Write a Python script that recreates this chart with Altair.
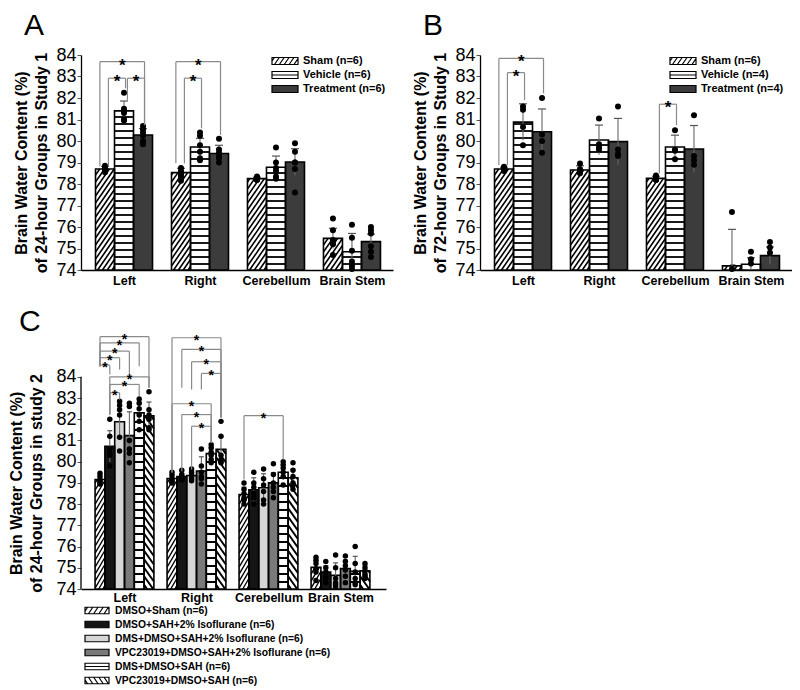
import altair as alt
import pandas as pd

FONT = "Liberation Sans"
REGIONS = ["Left", "Right", "Cerebellum", "Brain Stem"]

# ---------------- Panel A (24-hour, study 1) ----------------
A_SERIES = ["Sham (n=6)", "Vehicle (n=6)", "Treatment (n=6)"]
A_MEANS = [[78.70, 81.40, 80.28], [78.53, 79.72, 79.42], [78.25, 78.78, 79.02], [75.47, 74.85, 75.32]]
A_SD = [[0.12, 0.46, 0.30], [0.20, 0.40, 0.38], [0.07, 0.52, 0.62], [0.47, 0.85, 0.35]]
A_POINTS = [
    [[78.85, 78.75, 78.70, 78.62, 78.55, 78.68], [82.25, 81.50, 81.30, 81.00, 80.95, 81.40], [80.70, 80.55, 80.40, 80.25, 80.00, 79.85]],
    [[78.75, 78.60, 78.50, 78.40, 78.30, 78.15], [80.40, 80.25, 79.80, 79.50, 79.20, 79.10], [80.10, 79.60, 79.45, 79.30, 79.20, 79.00]],
    [[78.35, 78.30, 78.25, 78.20, 78.20, 78.20], [79.70, 79.00, 78.75, 78.60, 78.35, 78.25], [79.90, 79.50, 79.00, 79.00, 78.70, 77.60]],
    [[76.40, 75.85, 75.40, 75.30, 75.20, 74.70], [76.10, 75.50, 74.90, 74.40, 74.20, 74.05], [76.00, 75.85, 75.70, 75.10, 74.85, 74.60]],
]
# (region, bar i, bar j, bracket height, left leg bottom, right leg bottom)
A_BRACKETS = [("Left", 0, 2, 83.69, 78.82, 80.74), ("Left", 0, 1, 82.92, 78.82, 82.45),
              ("Left", 1, 2, 82.92, 81.90, 80.74), ("Right", 0, 2, 83.69, 78.96, 80.28),
              ("Right", 0, 1, 82.92, 78.96, 80.59)]

# ---------------- Panel B (72-hour, study 1) ----------------
B_SERIES = ["Sham (n=6)", "Vehicle (n=4)", "Treatment (n=4)"]
B_MEANS = [[78.70, 80.88, 80.43], [78.65, 80.05, 79.97], [78.26, 79.72, 79.63], [74.19, 74.27, 74.67]]
B_SD = [[0.08, 0.85, 1.06], [0.20, 0.69, 1.08], [0.10, 0.55, 1.09], [1.70, 0.30, 0.40]]
B_POINTS = [
    [[78.80, 78.75, 78.70, 78.65, 78.60, 78.70], [81.60, 81.45, 80.65, 79.80], [82.00, 80.30, 80.00, 79.45]],
    [[78.95, 78.70, 78.60, 78.55, 78.50, 78.60], [81.05, 79.85, 79.70, 79.60], [81.60, 79.60, 79.40, 79.30]],
    [[78.40, 78.30, 78.25, 78.20, 78.20, 78.20], [80.50, 79.60, 79.55, 79.15], [81.20, 79.30, 79.10, 78.90]],
    [[76.70, 74.05], [74.85, 74.50, 74.30], [75.30, 75.05, 74.80]],
]
B_BRACKETS = [("Left", 0, 2, 83.84, 78.88, 82.22), ("Left", 0, 1, 83.18, 78.88, 81.90),
              ("Cerebellum", 0, 1, 81.71, 78.50, 80.74)]

# ---------------- Panel C (24-hour, study 2) ----------------
C_SERIES = ["DMSO+Sham (n=6)", "DMSO+SAH+2% Isoflurane (n=6)", "DMS+DMSO+SAH+2% Isoflurane (n=6)",
            "VPC23019+DMSO+SAH+2% Isoflurane (n=6)", "DMS+DMSO+SAH (n=6)", "VPC23019+DMSO+SAH (n=6)"]
C_MEANS = [[79.16, 80.72, 81.88, 81.23, 82.30, 82.16],
           [79.21, 79.30, 79.35, 79.56, 80.38, 80.58],
           [78.45, 78.68, 78.77, 79.00, 79.50, 79.24],
           [75.02, 74.80, 74.64, 74.96, 74.83, 74.86]]
C_SD = [[0.20, 0.74, 0.85, 1.12, 0.50, 0.65],
        [0.20, 0.15, 0.25, 0.67, 0.30, 0.60],
        [0.35, 0.56, 0.66, 0.48, 0.35, 0.40],
        [0.30, 0.30, 0.59, 0.40, 0.71, 0.25]]
C_POINTS = [
    [[79.45, 79.30, 79.15, 79.00, 79.10, 78.95], [82.00, 81.20, 80.60, 80.40, 80.30, 79.80],
     [82.85, 82.65, 82.45, 82.20, 81.15, 80.50], [82.75, 82.60, 81.00, 80.60, 80.40, 79.95],
     [82.95, 82.75, 82.50, 82.20, 81.90, 81.50], [83.30, 82.45, 82.20, 82.00, 81.60, 81.50]],
    [[79.50, 79.35, 79.20, 79.10, 79.05, 79.00], [79.60, 79.40, 79.30, 79.20, 79.15, 79.15],
     [79.65, 79.50, 79.35, 79.30, 79.20, 79.10], [80.60, 79.80, 79.50, 79.30, 79.20, 78.95],
     [80.80, 80.65, 80.45, 80.30, 80.10, 79.95], [81.90, 81.20, 80.30, 80.10, 80.00, 79.95]],
    [[79.00, 78.70, 78.50, 78.30, 78.20, 78.00], [79.50, 79.00, 78.80, 78.50, 78.30, 78.00],
     [79.65, 79.20, 78.90, 78.60, 78.20, 78.00], [79.90, 79.40, 79.00, 78.80, 78.60, 78.30],
     [80.00, 79.85, 79.70, 79.50, 79.30, 78.90], [79.95, 79.60, 79.30, 79.00, 78.90, 78.70]],
    [[75.50, 75.35, 75.20, 74.95, 74.80, 74.40], [75.30, 75.00, 74.80, 74.60, 74.50, 74.30],
     [75.60, 75.00, 74.50, 74.30, 74.20, 74.10], [75.55, 75.30, 75.10, 74.90, 74.60, 74.30],
     [76.00, 75.20, 74.80, 74.50, 74.30, 74.20], [75.20, 75.00, 74.85, 74.70, 74.60, 74.50]],
]
C_BRACKETS = [("Left", 0, 5, 85.89, 84.50, 83.48), ("Left", 0, 4, 85.60, 84.50, 84.50),
              ("Left", 0, 3, 85.21, 84.50, 84.11), ("Left", 0, 2, 84.90, 84.50, 84.34),
              ("Left", 0, 1, 84.55, 84.50, 84.11), ("Left", 1, 5, 84.00, 82.22, 83.48),
              ("Left", 1, 4, 83.64, 82.22, 83.08), ("Left", 1, 2, 83.25, 82.22, 82.93),
              ("Right", 0, 5, 85.84, 79.49, 82.08), ("Right", 1, 5, 85.29, 83.48, 82.08),
              ("Right", 2, 5, 84.71, 83.40, 82.08), ("Right", 3, 5, 84.16, 83.40, 82.08),
              ("Right", 0, 4, 82.73, 79.49, 80.89), ("Right", 1, 4, 82.22, 79.55, 80.89),
              ("Right", 2, 4, 81.67, 79.63, 80.89), ("Cerebellum", 0, 4, 82.17, 79.16, 80.10)]

# ---------------- styles ----------------
AB_STYLE = [("fwd", "white"), ("horiz", "white"), ("solid", "#3c3c3c")]
C_STYLE = [("fwd", "white"), ("solid", "#151515"), ("solid", "#d6d6d6"),
           ("solid", "#7a7a7a"), ("horiz", "white"), ("back", "white")]
AB_HATCH = {"fwd": (7.0, 1.45, 1.6), "horiz": (7.0, 0, 1.8)}
C_HATCH = {"fwd": (7.0, 1.7, 1.4), "horiz": (8.0, 0, 2.0), "back": (8.5, 1.4, 2.0)}
AB_GEO = dict(width=312, height=215, xdom=[-0.566, 3.54], ydom=[74, 84], bar_px=19, cap_px=8,
              dot=36, star_fs=17, star_dy=4, ylab_fs=18, xlab_fs=12.5, xlab_pad=4, title_pad=6,
              nudge=(-0.27, 0.18, 0.08), sw_w=26, sw_h=7, sw_step=0.75, sw_slope=1.45,
              leg_fs=11, leg_off=16)
C_GEO = dict(width=305, height=261, xdom=[-0.604, 3.632], ydom=[74, 86.3], bar_px=9.8, cap_px=5,
             dot=30, star_fs=14, star_dy=3, ylab_fs=18, xlab_fs=12.5, xlab_pad=2, title_pad=11,
             nudge=(0, 0, 0), sw_w=24, sw_h=6.5, sw_step=0.8, sw_slope=1.5, leg_fs=10.3,
             leg_off=15)

LABEL_EXPR = "[" + ",".join("'" + r + "'" for r in REGIONS) + "][datum.value]"
SYM_SIZE = 169            # legend symbol layout box (13 px); swatch path drawn wider
SYM_HALF = 6.5            # px per path unit
SYM_CX = 7.5              # symbol centre inside the legend entry


def centre(g, s, n, bw):
    return g + (s - (n - 1) / 2) * bw


def swatch_path(kind, w_px, h_px, step, slope):
    xl = -SYM_CX / SYM_HALF
    xr = (w_px - SYM_CX) / SYM_HALF
    hh = h_px / 2 / SYM_HALF
    p = f"M{xl:.3f},{-hh:.3f}H{xr:.3f}V{hh:.3f}H{xl:.3f}Z"
    if kind == "horiz":
        return p + f" M{xl:.3f},0H{xr:.3f}"
    if kind in ("fwd", "back"):
        run = 2 * hh / slope
        x = xl - run + step * 0.5
        while x < xr:
            if kind == "fwd":
                x0, y0, x1, y1 = x, hh, x + run, -hh
            else:
                x0, y0, x1, y1 = x, -hh, x + run, hh
            ax, bx = max(x0, xl), min(x1, xr)
            if bx - ax > 0.02:
                ya = y0 + (y1 - y0) * (ax - x0) / (x1 - x0)
                yb = y0 + (y1 - y0) * (bx - x0) / (x1 - x0)
                p += f" M{ax:.3f},{ya:.3f}L{bx:.3f},{yb:.3f}"
            x += step
    return p


def make_panel(series, means, sds, points, brackets, style, hatch, geo, ytitle, letter,
               leg_xy, title_offset, c_axis=False):
    n = len(series)
    kx = geo["width"] / (geo["xdom"][1] - geo["xdom"][0])
    ky = geo["height"] / (geo["ydom"][1] - geo["ydom"][0])
    bw = geo["bar_px"] / kx
    cw = geo["cap_px"] / kx

    bar_rows, dot_rows = [], []
    for g, region in enumerate(REGIONS):
        for s, name in enumerate(series):
            c = centre(g, s, n, bw)
            m, sd = means[g][s], sds[g][s]
            bar_rows.append({"series": name, "xc": c, "x0": c - bw / 2, "x1": c + bw / 2,
                             "cx0": c - cw / 2, "cx1": c + cw / 2, "base": 74.0, "mid": 74.2,
                             "val": m, "lo": max(m - sd, 74.0), "hi": m + sd,
                             "kind": style[s][0], "fill": style[s][1]})
            for v in points[g][s]:
                dot_rows.append({"px": c, "py": v})
    bars = pd.DataFrame(bar_rows)
    dots = pd.DataFrame(dot_rows)

    # hatch lines, computed inside each bar in data units
    h_rows = []
    for b in bars.itertuples():
        if b.kind not in hatch:
            continue
        period, slope, sw = hatch[b.kind]
        W = (b.x1 - b.x0) * kx
        H = (b.val - b.base) * ky
        segs = []
        if b.kind == "horiz":
            yy = period - 1.0
            while yy < H - 1.5:
                segs.append((0, yy, W, yy))
                yy += period
        else:
            sg = 1 if b.kind == "fwd" else -1
            c = (-slope * W if sg > 0 else 0.0) + period * 0.5
            cmax = H if sg > 0 else H + slope * W
            while c < cmax:
                if sg > 0:
                    xa, xb = max(0, -c / slope), min(W, (H - c) / slope)
                else:
                    xa, xb = max(0, (c - H) / slope), min(W, c / slope)
                if xb - xa > 0.4:
                    segs.append((xa, sg * slope * xa + c, xb, sg * slope * xb + c))
                c += period
        for xa, ya, xb, yb in segs:
            h_rows.append({"hx": b.x0 + xa / kx, "hx2": b.x0 + xb / kx,
                           "hy": b.base + ya / ky, "hy2": b.base + yb / ky, "sw": sw})
    hat = pd.DataFrame(h_rows)

    # significance brackets
    seg_rows, star_rows = [], []
    nl, nm, nr = geo["nudge"]
    for region, i, j, h, l1, l2 in brackets:
        g = REGIONS.index(region)
        xl = centre(g, i, n, bw) + (nl if j - i > 1 else nm) * bw
        xr = centre(g, j, n, bw) + nr * bw
        seg_rows += [{"bx": xl, "bx2": xr, "by": h, "by2": h},
                     {"bx": xl, "bx2": xl, "by": l1, "by2": h},
                     {"bx": xr, "bx2": xr, "by": l2, "by2": h}]
        star_rows.append({"sx": (xl + xr) / 2, "sy": h})
    segs_df = pd.DataFrame(seg_rows)
    stars_df = pd.DataFrame(star_rows)

    xs = alt.Scale(domain=geo["xdom"], nice=False, zero=False)
    ys = alt.Scale(domain=geo["ydom"], nice=False, zero=False)
    xaxis = alt.Axis(values=[0, 1, 2, 3], labelExpr=LABEL_EXPR, ticks=False, grid=False, title=None,
                     domainColor="black", domainWidth=1.3, labelFont=FONT,
                     labelFontSize=geo["xlab_fs"], labelFontWeight="bold", labelColor="black",
                     labelPadding=geo["xlab_pad"])
    yargs = dict(values=list(range(74, 85)), grid=False, title=ytitle, titleFont=FONT,
                 titleFontSize=16, titleFontWeight="bold", titleColor="black",
                 titleLineHeight=20, titlePadding=geo["title_pad"], labelFont=FONT,
                 labelFontSize=geo["ylab_fs"], labelColor="black", labelPadding=1,
                 tickSize=4, tickColor="#555555", domainColor="black", domainWidth=1.3)
    if c_axis:
        yargs["domain"] = False
        yargs["titleY"] = (geo["ydom"][1] - 79) * ky
    yaxis = alt.Axis(**yargs)

    def X(f):
        return alt.X(f, type="quantitative", scale=xs, axis=xaxis)

    def Y(f):
        return alt.Y(f, type="quantitative", scale=ys, axis=yaxis)

    # legend: hidden points under the bars carry a merged fill/shape/stroke legend
    paths = [swatch_path(k, geo["sw_w"], geo["sw_h"], geo["sw_step"], geo["sw_slope"]) for k, _ in style]
    leg_fills = [f for _, f in style]
    leg = alt.Legend(title=None, orient="none", legendX=leg_xy[0], legendY=leg_xy[1],
                     direction="vertical", labelFont=FONT, labelFontSize=geo["leg_fs"],
                     labelFontWeight="bold", labelColor="black",
                     symbolSize=SYM_SIZE, symbolStrokeColor="black",
                     symbolStrokeWidth=1.2, symbolOpacity=1, rowPadding=0,
                     labelOffset=geo["leg_off"], padding=0, labelLimit=400)
    layers = [alt.Chart(bars).mark_point(filled=True, size=4, opacity=1, strokeWidth=1.2).encode(
        x=X("xc"), y=Y("mid"),
        fill=alt.Fill("series:N", scale=alt.Scale(domain=series, range=leg_fills), legend=leg),
        stroke=alt.Stroke("series:N", scale=alt.Scale(domain=series, range=["black"] * n), legend=leg),
        shape=alt.Shape("series:N", scale=alt.Scale(domain=series, range=paths), legend=leg))]

    for col in bars["fill"].unique():
        layers.append(alt.Chart(bars[bars["fill"] == col]).mark_rect(fill=col, strokeWidth=0).encode(
            x=X("x0"), x2="x1", y=Y("base"), y2="val"))
    if len(hat):
        for sw in hat["sw"].unique():
            layers.append(alt.Chart(hat[hat["sw"] == sw]).mark_rule(color="black", strokeWidth=float(sw)).encode(
                x=X("hx"), x2="hx2", y=Y("hy"), y2="hy2"))
    layers.append(alt.Chart(bars).mark_rect(fill="transparent", stroke="black", strokeWidth=1.6).encode(
        x=X("x0"), x2="x1", y=Y("base"), y2="val"))
    layers.append(alt.Chart(bars).mark_rule(color="#666666", strokeWidth=1.1).encode(
        x=X("xc"), y=Y("lo"), y2="hi"))
    layers.append(alt.Chart(bars).mark_rule(color="#555555", strokeWidth=1.2).encode(
        x=X("cx0"), x2="cx1", y=Y("hi")))
    layers.append(alt.Chart(dots).mark_circle(size=geo["dot"], color="black", opacity=1).encode(
        x=X("px"), y=Y("py")))
    layers.append(alt.Chart(segs_df).mark_rule(color="#8a8a8a", strokeWidth=1.2).encode(
        x=X("bx"), x2="bx2", y=Y("by"), y2="by2"))
    layers.append(alt.Chart(stars_df).mark_text(text="*", font=FONT, fontSize=geo["star_fs"],
                                                fontWeight="bold", fill="black",
                                                dy=geo["star_dy"]).encode(
        x=X("sx"), y=Y("sy")))
    if c_axis:
        axdf = pd.DataFrame({"ax": [geo["xdom"][0]], "a0": [74.0], "a1": [84.0]})
        layers.append(alt.Chart(axdf).mark_rule(color="black", strokeWidth=1.3).encode(
            x=X("ax"), y=Y("a0"), y2="a1"))

    return alt.layer(*layers).properties(
        width=geo["width"], height=geo["height"],
        title=alt.TitleParams(text=letter, anchor="start", frame="bounds", fontSize=30, font=FONT,
                              fontWeight="normal", color="black", dx=10, offset=title_offset))


pa = make_panel(A_SERIES, A_MEANS, A_SD, A_POINTS, A_BRACKETS, AB_STYLE, AB_HATCH, AB_GEO,
                ["Brain Water Content (%)", "of 24-hour Groups in Study 1"], "A", (191, -1.5), 5)
pb = make_panel(B_SERIES, B_MEANS, B_SD, B_POINTS, B_BRACKETS, AB_STYLE, AB_HATCH, AB_GEO,
                ["Brain Water Content (%)", "of 72-hour Groups in Study 1"], "B", (190, -1.5), 5)
pc = make_panel(C_SERIES, C_MEANS, C_SD, C_POINTS, C_BRACKETS, C_STYLE, C_HATCH, C_GEO,
                ["Brain Water Content (%)", "of 24-hour Groups in study 2"], "C", (4, 275), -9,
                c_axis=True)

top = alt.hconcat(pa, pb, spacing=19).resolve_scale(fill="independent", shape="independent",
                                                    stroke="independent")
chart = alt.vconcat(top, pc, spacing=20).resolve_scale(
    fill="independent", shape="independent", stroke="independent").properties(
    padding={"top": 3, "left": 0, "right": 0, "bottom": 0}).configure_view(stroke=None)

chart.save("out.html", embed_options={"renderer": "svg", "actions": False})
